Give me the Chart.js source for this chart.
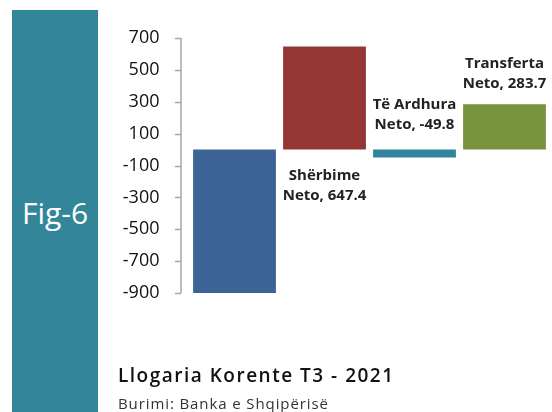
<!DOCTYPE html>
<html>
<head>
<meta charset="utf-8">
<script src="https://cdn.jsdelivr.net/npm/chart.js@4"></script>
<style>
  html, body { margin: 0; padding: 0; background: #fff; }
  #wrap { position: relative; width: 552px; height: 412px; overflow: hidden; }
  #chart { position: absolute; left: 0; top: 0; }
  #fig { position: absolute; left: 12px; top: 10px; width: 86px; height: 404px; background: #33869a;
         color: #fff; font: 30px "Open Sans", sans-serif; display: flex; align-items: center; justify-content: center; }
  #title { position: absolute; left: 118px; top: 362px; font: 600 19px "Open Sans", sans-serif; letter-spacing: 1.5px; color: #111; white-space: nowrap; }
  #source { position: absolute; left: 118px; top: 393px; font: 15px "Open Sans", sans-serif; letter-spacing: 0.9px; color: #333; white-space: nowrap; }
</style>
</head>
<body>
<div id="wrap">
  <canvas id="chart" width="552" height="412"></canvas>
  <div id="fig">Fig-6</div>
  <div id="title">Llogaria Korente T3 - 2021</div>
  <div id="source">Burimi: Banka e Shqipërisë</div>
</div>
<script>
// categories and values (mln euro)
var categories = ['Mallra Neto', 'Shërbime Neto', 'Të Ardhura Neto', 'Transferta Neto'];
var values = [-900, 647.4, -49.8, 283.7];
var colors = ['#3c6396', '#943634', '#31849b', '#77933c'];
// bar labels (first bar has none in the original)
var barLabels = [null, ['Shërbime', 'Neto, 647.4'], ['Të Ardhura', 'Neto, -49.8'], ['Transferta', 'Neto, 283.7']];
var tickValues = [700, 500, 300, 100, -100, -300, -500, -700, -900];

// y axis line drawn a bit left of the plot, like the original
var axisLine = {
  id: 'axisLine',
  afterDraw: function (chart) {
    var c = chart.ctx, y = chart.scales.y;
    var x = y.right - 8.5;
    c.save();
    c.strokeStyle = '#a6a6a6';
    c.lineWidth = 1.5;
    c.beginPath();
    c.moveTo(x, y.getPixelForValue(700));
    c.lineTo(x, y.getPixelForValue(-900));
    tickValues.forEach(function (v) {
      var py = Math.round(y.getPixelForValue(v)) + 0.5;
      c.moveTo(x - 6, py);
      c.lineTo(x, py);
    });
    c.stroke();
    c.restore();
  }
};

// label offsets: first line baseline relative to bar bottom (below) or top (above)
var labelGap = [0, 30, -41, -36];

var barText = {
  id: 'barText',
  afterDatasetsDraw: function (chart) {
    var c = chart.ctx;
    var meta = chart.getDatasetMeta(0);
    c.save();
    c.font = 'bold 15px "Open Sans", sans-serif';
    c.fillStyle = '#222';
    c.textAlign = 'center';
    c.textBaseline = 'alphabetic';
    meta.data.forEach(function (bar, i) {
      var lines = barLabels[i];
      if (!lines) return;
      var top = Math.min(bar.y, bar.base), bottom = Math.max(bar.y, bar.base);
      var y0 = labelGap[i] > 0 ? bottom + labelGap[i] : top + labelGap[i];
      c.fillText(lines[0], bar.x, y0);
      c.fillText(lines[1], bar.x, y0 + 20);
    });
    c.restore();
  }
};

new Chart(document.getElementById('chart'), {
  type: 'bar',
  data: {
    labels: categories,
    datasets: [{
      data: values,
      backgroundColor: colors,
      borderWidth: 0,
      categoryPercentage: 1,
      barPercentage: 0.92
    }]
  },
  options: {
    responsive: false,
    animation: false,
    events: [],
    layout: { padding: { left: 100, right: 2.5, top: 38, bottom: 119 } },
    plugins: { legend: { display: false }, tooltip: { enabled: false } },
    scales: {
      x: { display: false },
      y: {
        min: -900,
        max: 700,
        afterBuildTicks: function (s) { s.ticks = tickValues.map(function (v) { return { value: v }; }); },
        afterFit: function (s) { s.width = 89.5; },
        grid: { display: false },
        border: { display: false },
        ticks: {
          padding: 22,
          color: '#111',
          font: { family: 'Open Sans', size: 18 }
        }
      }
    }
  },
  plugins: [axisLine, barText]
});
</script>
</body>
</html>
